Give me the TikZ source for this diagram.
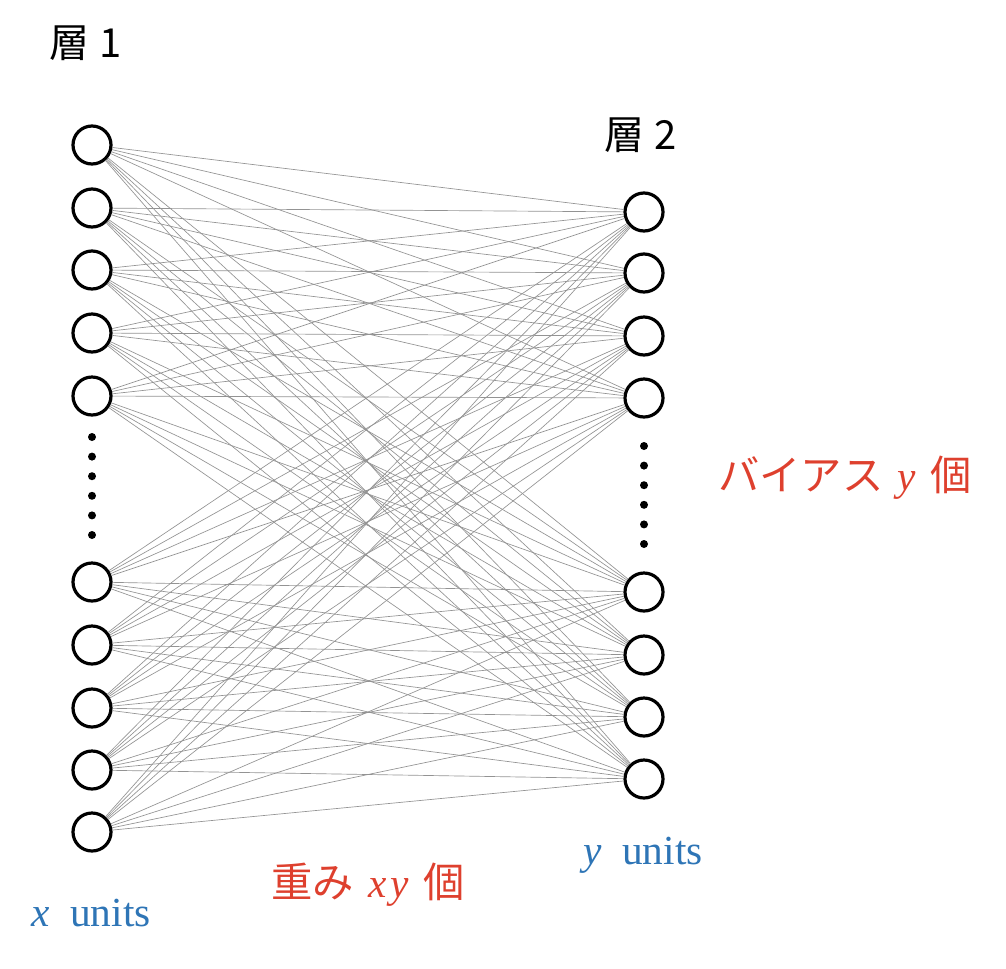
\documentclass[tikz,border=0pt]{standalone}
\usepackage{fontspec}
\setmainfont{Liberation Serif}
\newfontfamily\jp{Noto Sans CJK JP}
\definecolor{labelred}{RGB}{222,64,46}
\definecolor{labelblue}{RGB}{46,117,182}
\begin{document}
\begin{tikzpicture}[x=0.75pt, y=-0.75pt]
\tikzset{ unit/.style={draw=black, line width=2.4pt, circle, fill=white, minimum size=28.5pt, inner sep=0pt},
  vdot/.style={fill=black, circle, minimum size=6pt, inner sep=0pt},
  wire/.style={draw=gray!85, line width=0.5pt},
  jplabel/.style={font=\fontsize{30}{34}\selectfont\jp},
  txtlabel/.style={font=\fontsize{31}{35}\selectfont} }

\useasboundingbox (0,0) rectangle (1006,968);

%%% Camada 1

\node [unit] (L1)  at (92,145) { };
\node [unit] (L2)  at (92,208) { };
\node [unit] (L3)  at (92,270) { };
\node [unit] (L4)  at (92,333) { };
\node [unit] (L5)  at (92,396) { };
\node [unit] (L6)  at (92,582) { };
\node [unit] (L7)  at (92,645) { };
\node [unit] (L8)  at (92,708) { };
\node [unit] (L9)  at (92,770) { };
\node [unit] (L10) at (92,832) { };

% reticencias
\foreach \k in {0,...,5}
  \node [vdot] (Ld\k) at (92,437+19.6*\k) { };

%%% Camada 2

\node [unit] (R1) at (644,212) { };
\node [unit] (R2) at (644,273) { };
\node [unit] (R3) at (644,336) { };
\node [unit] (R4) at (644,398) { };
\node [unit] (R5) at (644,592) { };
\node [unit] (R6) at (644,655) { };
\node [unit] (R7) at (644,717) { };
\node [unit] (R8) at (644,779) { };

% reticencias
\foreach \k in {0,...,5}
  \node [vdot] (Rd\k) at (644,446+19.6*\k) { };

%%% Pesos

\foreach \i in {1,...,10}
  \foreach \j in {1,...,8}
    \draw [wire] (L\i) -- (R\j);

%%% Textos

\node [jplabel] (camada1) at (86,43) {層\hspace{0.25em}1};
\node [jplabel] (camada2) at (641,135) {層\hspace{0.25em}2};
\node [txtlabel, text=labelred] (bias) at (845,478) {{\jp バイアス}\hspace{0.35em}\textit{y}\hspace{0.35em}{\jp 個}};
\node [txtlabel, text=labelred] (pesos) at (368,885) {{\jp 重み}\hspace{0.35em}\textit{x\kern0.08em y}\hspace{0.35em}{\jp 個}};
\node [txtlabel, text=labelblue] (xunits) at (91,913) {\textit{x}\hspace{0.5em}units};
\node [txtlabel, text=labelblue] (yunits) at (643,855) {\textit{y}\hspace{0.5em}units};

\end{tikzpicture}
\end{document}
